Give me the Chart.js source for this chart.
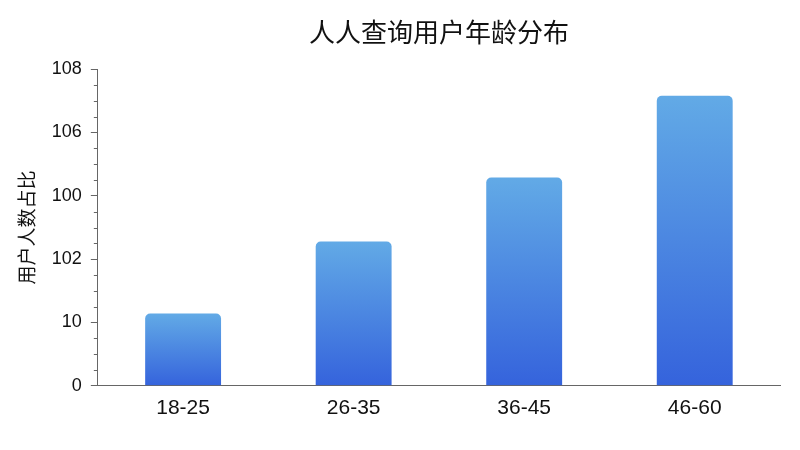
<!DOCTYPE html>
<html>
<head>
<meta charset="utf-8">
<script src="https://cdn.jsdelivr.net/npm/chart.js@4/dist/chart.umd.min.js"></script>
<style>
  html, body { margin: 0; padding: 0; background: #fff; }
</style>
</head>
<body>
<canvas id="age-chart" width="800" height="450"></canvas>
<script>
const ageGroups = ["18-25", "26-35", "36-45", "46-60"];
// bar heights in tick steps (the axis labels are not evenly valued)
const userShare = [1.14, 2.28, 3.29, 4.58];
const yTickLabels = ["0", "10", "102", "100", "106", "108"];

const fontFamily = "'Liberation Sans', 'Noto Sans CJK SC', sans-serif";

function barGradient(context) {
  const chart = context.chart;
  const yScale = chart.scales.y;
  if (!yScale || !context.parsed) return "#4a88e0";
  const top = yScale.getPixelForValue(context.parsed.y);
  const bottom = yScale.getPixelForValue(0);
  if (!isFinite(top) || !isFinite(bottom) || top === bottom) return "#4a88e0";
  const g = chart.ctx.createLinearGradient(0, top, 0, bottom);
  g.addColorStop(0, "#62aae6");
  g.addColorStop(1, "#3563dc");
  return g;
}

// short minor ticks between the labelled ones
const minorTicks = {
  id: "minorTicks",
  afterDraw(chart) {
    const y = chart.scales.y;
    const ctx = chart.ctx;
    ctx.save();
    ctx.strokeStyle = "#666";
    ctx.lineWidth = 1;
    for (let v = 0; v <= yTickLabels.length - 1; v += 0.25) {
      if (Number.isInteger(v)) continue;
      const py = Math.round(y.getPixelForValue(v)) + 0.5;
      ctx.beginPath();
      ctx.moveTo(y.right - 4, py);
      ctx.lineTo(y.right, py);
      ctx.stroke();
    }
    ctx.restore();
  }
};

new Chart(document.getElementById("age-chart").getContext("2d"), {
  type: "bar",
  data: {
    labels: ageGroups,
    datasets: [{
      label: "用户人数占比",
      data: userShare,
      backgroundColor: barGradient,
      borderRadius: 5,
      categoryPercentage: 1,
      barPercentage: 0.445
    }]
  },
  options: {
    responsive: false,
    animation: false,
    layout: { padding: { left: 17, right: 20, top: 11, bottom: 25 } },
    plugins: {
      legend: { display: false },
      tooltip: { enabled: false },
      title: {
        display: true,
        fullSize: false,
        text: "人人查询用户年龄分布",
        color: "#111",
        font: { family: fontFamily, size: 26, weight: "normal" },
        padding: { top: 8, bottom: 19 }
      }
    },
    scales: {
      x: {
        grid: { display: false, drawOnChartArea: false, drawTicks: true, tickLength: 6, color: "#666" },
        border: { display: true, color: "#666" },
        ticks: { color: "#111", font: { family: fontFamily, size: 21 }, padding: 4 }
      },
      y: {
        min: 0,
        max: yTickLabels.length - 1,
        grid: { drawOnChartArea: false, drawTicks: true, tickLength: 7, color: "#666" },
        border: { display: true, color: "#666" },
        ticks: {
          stepSize: 1,
          color: "#111",
          font: { family: fontFamily, size: 18 },
          padding: 9,
          callback: (value) => yTickLabels[value]
        },
        title: {
          display: true,
          text: "用户人数占比",
          color: "#111",
          font: { family: fontFamily, size: 19 },
          padding: { top: 0, bottom: 3 }
        }
      }
    }
  },
  plugins: [minorTicks]
});
</script>
</body>
</html>
